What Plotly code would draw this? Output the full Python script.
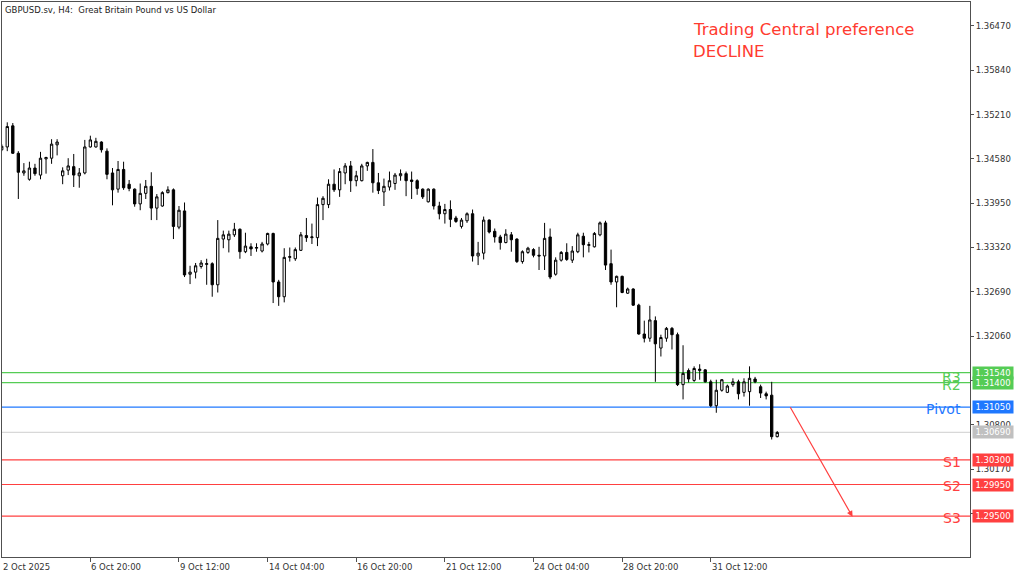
import plotly.graph_objects as go

# ---------------- data ----------------
opens = [1.3471, 1.3475, 1.3505, 1.3466, 1.3438, 1.3429, 1.3445, 1.3435, 1.3458, 1.3459,
         1.3478, 1.3434, 1.3442, 1.3447, 1.3434, 1.3438, 1.3475, 1.3475, 1.3482, 1.3469,
         1.3438, 1.3415, 1.3443, 1.3422, 1.3415, 1.3394, 1.3409, 1.3419, 1.3388, 1.3391,
         1.3410, 1.3414, 1.3361, 1.3384, 1.3294, 1.3297, 1.3305, 1.3308, 1.3309, 1.3279,
         1.3344, 1.3343, 1.3350, 1.3358, 1.3326, 1.3333, 1.3331, 1.3327, 1.3337, 1.3352,
         1.3283, 1.3262, 1.3318, 1.3316, 1.3328, 1.3349, 1.3346, 1.3346, 1.3393, 1.3393,
         1.3422, 1.3414, 1.3438, 1.3448, 1.3427, 1.3427, 1.3448, 1.3453, 1.3424, 1.3411,
         1.3418, 1.3423, 1.3434, 1.3437, 1.3428, 1.3427, 1.3415, 1.3397, 1.3415, 1.3391,
         1.3380, 1.3386, 1.3374, 1.3362, 1.3370, 1.3380, 1.3320, 1.3324, 1.3371, 1.3355,
         1.3347, 1.3339, 1.3350, 1.3344, 1.3312, 1.3325, 1.3329, 1.3321, 1.3320, 1.3347,
         1.3294, 1.3314, 1.3325, 1.3314, 1.3326, 1.3348, 1.3335, 1.3333, 1.3350, 1.3367,
         1.3309, 1.3283, 1.3291, 1.3267, 1.3273, 1.3250, 1.3209, 1.3203, 1.3228, 1.3189,
         1.3203, 1.3217, 1.3208, 1.3137, 1.3157, 1.3143, 1.3157, 1.3158, 1.3141, 1.3107,
         1.3129, 1.3126, 1.3137, 1.3141, 1.3126, 1.3127, 1.3145, 1.3134, 1.3124, 1.3122,
         1.3063]
highs = [1.3479, 1.3510, 1.3509, 1.3469, 1.3452, 1.3454, 1.3451, 1.3468, 1.3461, 1.3486,
         1.3486, 1.3446, 1.3459, 1.3465, 1.3445, 1.3485, 1.3491, 1.3488, 1.3483, 1.3473,
         1.3445, 1.3455, 1.3454, 1.3428, 1.3416, 1.3423, 1.3428, 1.3439, 1.3408, 1.3412,
         1.3419, 1.3416, 1.3391, 1.3396, 1.3306, 1.3310, 1.3314, 1.3316, 1.3311, 1.3371,
         1.3356, 1.3356, 1.3367, 1.3359, 1.3353, 1.3338, 1.3338, 1.3340, 1.3353, 1.3353,
         1.3286, 1.3331, 1.3332, 1.3332, 1.3354, 1.3374, 1.3366, 1.3403, 1.3405, 1.3429,
         1.3443, 1.3445, 1.3452, 1.3455, 1.3441, 1.3451, 1.3454, 1.3472, 1.3438, 1.3430,
         1.3440, 1.3438, 1.3443, 1.3440, 1.3440, 1.3429, 1.3416, 1.3416, 1.3416, 1.3397,
         1.3394, 1.3399, 1.3377, 1.3374, 1.3382, 1.3386, 1.3340, 1.3376, 1.3372, 1.3359,
         1.3350, 1.3358, 1.3354, 1.3345, 1.3328, 1.3333, 1.3331, 1.3333, 1.3367, 1.3359,
         1.3318, 1.3327, 1.3338, 1.3334, 1.3353, 1.3353, 1.3340, 1.3354, 1.3369, 1.3370,
         1.3329, 1.3292, 1.3292, 1.3275, 1.3274, 1.3252, 1.3228, 1.3249, 1.3234, 1.3208,
         1.3219, 1.3219, 1.3211, 1.3193, 1.3160, 1.3163, 1.3166, 1.3159, 1.3144, 1.3144,
         1.3145, 1.3137, 1.3146, 1.3144, 1.3146, 1.3163, 1.3148, 1.3137, 1.3127, 1.3141,
         1.3071]
lows = [1.3469, 1.3469, 1.3465, 1.3401, 1.3434, 1.3427, 1.3434, 1.3429, 1.3437, 1.3451,
        1.3463, 1.3422, 1.3435, 1.3418, 1.3417, 1.3436, 1.3474, 1.3474, 1.3467, 1.3429,
        1.3392, 1.3410, 1.3414, 1.3412, 1.3390, 1.3385, 1.3401, 1.3371, 1.3371, 1.3390,
        1.3409, 1.3344, 1.3358, 1.3290, 1.3280, 1.3288, 1.3302, 1.3279, 1.3262, 1.3268,
        1.3331, 1.3325, 1.3347, 1.3316, 1.3324, 1.3320, 1.3326, 1.3325, 1.3335, 1.3253,
        1.3249, 1.3254, 1.3312, 1.3313, 1.3327, 1.3340, 1.3337, 1.3334, 1.3371, 1.3388,
        1.3411, 1.3404, 1.3422, 1.3411, 1.3419, 1.3426, 1.3441, 1.3410, 1.3408, 1.3391,
        1.3413, 1.3414, 1.3427, 1.3405, 1.3401, 1.3407, 1.3401, 1.3396, 1.3386, 1.3372,
        1.3366, 1.3361, 1.3367, 1.3359, 1.3367, 1.3312, 1.3307, 1.3315, 1.3352, 1.3339,
        1.3329, 1.3338, 1.3326, 1.3310, 1.3309, 1.3323, 1.3318, 1.3300, 1.3300, 1.3287,
        1.3292, 1.3312, 1.3313, 1.3310, 1.3324, 1.3318, 1.3325, 1.3332, 1.3348, 1.3300,
        1.3279, 1.3247, 1.3267, 1.3266, 1.3249, 1.3208, 1.3197, 1.3198, 1.3141, 1.3177,
        1.3198, 1.3187, 1.3135, 1.3116, 1.3140, 1.3141, 1.3144, 1.3140, 1.3105, 1.3097,
        1.3127, 1.3125, 1.3134, 1.3116, 1.3120, 1.3107, 1.3139, 1.3118, 1.3116, 1.3059,
        1.3062]
closes = [1.3476, 1.3504, 1.3466, 1.3439, 1.3441, 1.3445, 1.3437, 1.3459, 1.3460, 1.3479,
          1.3482, 1.3441, 1.3448, 1.3435, 1.3438, 1.3475, 1.3485, 1.3483, 1.3471, 1.3436,
          1.3414, 1.3443, 1.3417, 1.3416, 1.3394, 1.3409, 1.3419, 1.3388, 1.3404, 1.3410,
          1.3414, 1.3362, 1.3385, 1.3293, 1.3297, 1.3306, 1.3310, 1.3309, 1.3279, 1.3345,
          1.3350, 1.3351, 1.3358, 1.3326, 1.3334, 1.3330, 1.3332, 1.3337, 1.3352, 1.3283,
          1.3262, 1.3318, 1.3319, 1.3329, 1.3350, 1.3346, 1.3347, 1.3393, 1.3402, 1.3422,
          1.3414, 1.3440, 1.3448, 1.3427, 1.3434, 1.3448, 1.3453, 1.3424, 1.3413, 1.3419,
          1.3427, 1.3435, 1.3437, 1.3427, 1.3426, 1.3416, 1.3404, 1.3415, 1.3391, 1.3380,
          1.3386, 1.3372, 1.3369, 1.3371, 1.3380, 1.3320, 1.3324, 1.3371, 1.3354, 1.3347,
          1.3339, 1.3351, 1.3343, 1.3312, 1.3326, 1.3331, 1.3321, 1.3320, 1.3345, 1.3290,
          1.3314, 1.3325, 1.3315, 1.3327, 1.3350, 1.3336, 1.3336, 1.3352, 1.3367, 1.3307,
          1.3283, 1.3291, 1.3268, 1.3273, 1.3250, 1.3209, 1.3203, 1.3229, 1.3195, 1.3204,
          1.3217, 1.3208, 1.3137, 1.3153, 1.3145, 1.3160, 1.3159, 1.3141, 1.3107, 1.3129,
          1.3144, 1.3135, 1.3141, 1.3124, 1.3141, 1.3146, 1.3141, 1.3125, 1.3121, 1.3063,
          1.3069]

x_tick_index = [0, 16, 32, 48, 64, 80, 96, 112, 128]
x_tick_labels = ["2 Oct 2025", "6 Oct 20:00", "9 Oct 12:00", "14 Oct 04:00", "16 Oct 20:00",
                 "21 Oct 12:00", "24 Oct 04:00", "28 Oct 20:00", "31 Oct 12:00"]
y_tick_values = [1.36470, 1.35840, 1.35210, 1.34580, 1.33950, 1.33320, 1.32690,
                 1.32060, 1.31430, 1.30800, 1.30170, 1.29540]
# tick labels that are hidden behind the level price boxes in the reference
y_tick_hidden = [1.31430, 1.29540]

level_names = ["R3", "R2", "Pivot", "S1", "S2", "S3"]
level_prices = [1.31540, 1.31400, 1.31050, 1.30300, 1.29950, 1.29500]
current_price = 1.30690

# ---------------- styles ----------------
GREEN = "#55cc55"
BLUE = "#1f78ff"
RED = "#ff4040"
GREY_LINE = "#d8d8d8"
level_colors = [GREEN, GREEN, BLUE, RED, RED, RED]
FONT = "DejaVu Sans"
AXIS_TXT = "#333333"

X_RANGE = [0.05, 174.8]
Y_RANGE = [1.28919, 1.36811]

n = len(opens)
xs = list(range(n))

fig = go.Figure()
fig.add_trace(go.Candlestick(
    x=xs, open=opens, high=highs, low=lows, close=closes,
    increasing=dict(line=dict(color="#000000", width=1), fillcolor="#ffffff"),
    decreasing=dict(line=dict(color="#000000", width=1), fillcolor="#000000"),
    whiskerwidth=0, hoverinfo="skip", showlegend=False,
))

shapes = []
for p, c in zip(level_prices, level_colors):
    shapes.append(dict(type="line", xref="paper", x0=0, x1=1, yref="y", y0=p, y1=p,
                       line=dict(color=c, width=1.2), layer="below"))
shapes.append(dict(type="line", xref="paper", x0=0, x1=1, yref="y",
                   y0=current_price, y1=current_price,
                   line=dict(color=GREY_LINE, width=1.2), layer="below"))

annotations = []
# top-left caption
annotations.append(dict(text="GBPUSD.sv, H4:  Great Britain Pound vs US Dollar",
                        xref="paper", yref="paper", x=0, y=1, xanchor="left", yanchor="top",
                        xshift=1, yshift=-1, showarrow=False,
                        font=dict(family=FONT, size=8.5, color="#222222")))
# Trading Central text
annotations.append(dict(text="Trading Central preference", xref="paper", yref="paper",
                        x=(691 - 2) / 968, y=1, xanchor="left", yanchor="top", yshift=-16,
                        showarrow=False, font=dict(family=FONT, size=16.5, color="#ff3b30")))
annotations.append(dict(text="DECLINE", xref="paper", yref="paper",
                        x=(691 - 2) / 968, y=1, xanchor="left", yanchor="top", yshift=-38,
                        showarrow=False, font=dict(family=FONT, size=16.5, color="#ff3b30")))

# level labels inside plot
label_shift = {"R3": -4, "R2": -2, "Pivot": -2, "S1": -2, "S2": -1, "S3": -2}
for name, p, c in zip(level_names, level_prices, level_colors):
    annotations.append(dict(text=name, xref="paper", yref="y", x=(963 - 2) / 968, y=p,
                            xanchor="right", yanchor="middle", yshift=label_shift[name],
                            showarrow=False, font=dict(family=FONT, size=14, color=c)))

# price boxes on axis
box_prices = level_prices + [current_price]
box_colors = level_colors + ["#c0c0c0"]
for p, c in zip(box_prices, box_colors):
    annotations.append(dict(text=f"{p:.5f}", xref="paper", yref="y", x=1, y=p,
                            xanchor="left", yanchor="middle", xshift=2, showarrow=False,
                            bgcolor=c, width=38, height=10, borderpad=1, align="center",
                            font=dict(family=FONT, size=8.5, color="#ffffff")))

# x tick labels (left aligned at ticks)
for i, t in zip(x_tick_index, x_tick_labels):
    xp = (i - X_RANGE[0]) / (X_RANGE[1] - X_RANGE[0])
    annotations.append(dict(text=t, xref="paper", yref="paper", x=max(xp, 0), y=0,
                            xanchor="left", yanchor="top", yshift=-3, xshift=-1,
                            showarrow=False,
                            font=dict(family=FONT, size=8.5, color=AXIS_TXT)))

# forecast arrow from pivot to S3
annotations.append(dict(text="", xref="x", yref="y", axref="x", ayref="y",
                        x=n - 1 + 13.6, y=level_prices[5] - 0.0001,
                        ax=n - 1 + 2.2, ay=level_prices[2] + 0.0002,
                        showarrow=True, arrowhead=2, arrowsize=1, arrowwidth=1.2,
                        arrowcolor=RED))

fig.update_layout(
    width=1024, height=577,
    margin=dict(l=2, r=54, t=2, b=20),
    paper_bgcolor="#ffffff", plot_bgcolor="#ffffff",
    showlegend=False, hovermode=False, boxgap=0.4,
    shapes=shapes, annotations=annotations,
    font=dict(family=FONT, size=8.5, color=AXIS_TXT),
)
fig.update_xaxes(
    range=X_RANGE, rangeslider=dict(visible=False), showgrid=False, zeroline=False,
    showline=True, linecolor="#505050", linewidth=1, mirror=True,
    tickmode="array", tickvals=x_tick_index, ticks="outside", ticklen=4,
    tickcolor="#505050", showticklabels=False,
)
fig.update_yaxes(
    side="right", range=Y_RANGE, showgrid=False, zeroline=False,
    showline=True, linecolor="#505050", linewidth=1, mirror=True,
    tickmode="array", tickvals=y_tick_values,
    ticktext=["" if v in y_tick_hidden else f"{v:.5f}" for v in y_tick_values],
    ticks="outside", ticklen=3, tickcolor="#505050",
    tickfont=dict(family=FONT, size=8.5, color=AXIS_TXT),
)

fig.write_html("out.html", config={"displayModeBar": False},
               post_script="document.body.style.margin='0';document.body.style.padding='0';")
